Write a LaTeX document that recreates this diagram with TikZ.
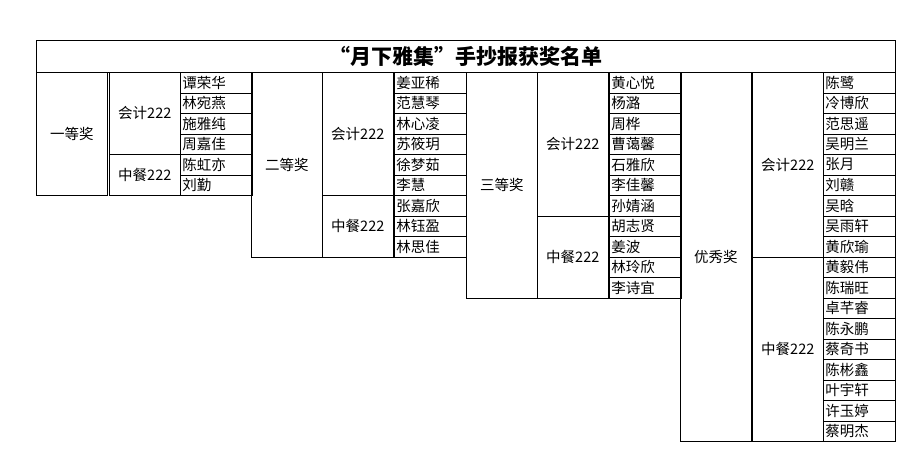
\documentclass[tikz,border=0pt]{standalone}
\usepackage{fontspec}
\setmainfont{Noto Sans CJK SC}
\usetikzlibrary{positioning}

\newcommand{\rowh}{20.5}

\begin{document}
\begin{tikzpicture}[
    x=1pt, y=-1pt,
    cell_style/.style={draw, semithick, rectangle, anchor=north west, inner sep=0pt, font=\fontsize{14.5}{14.5}\selectfont},
    prize_cell/.style={cell_style, minimum width=71pt},
    class_cell/.style={cell_style, minimum width=71pt},
    name_cell/.style={cell_style, minimum width=72pt, minimum height=\rowh pt, text width=70pt, align=left},
    title_cell/.style={cell_style, minimum width=859pt, minimum height=32pt, font=\fontsize{21}{21}\selectfont\bfseries}
]
\useasboundingbox (0,0) rectangle (922,458);

% Title row
\node[title_cell] (title) at (36,40) {“月下雅集”手抄报获奖名单};

% First prize
\node[prize_cell, minimum height=6*\rowh pt] (prize1) at (36,72) {一等奖};
\node[class_cell, minimum height=4*\rowh pt] (class1a) at (109,72) {会计222};
\node[class_cell, minimum height=2*\rowh pt] (class1b) at (109,72+4*\rowh) {中餐222};
\foreach \n [count=\i from 0] in {谭荣华,林宛燕,施雅纯,周嘉佳,陈虹亦,刘勤}
    \node[name_cell] (name1\i) at (180,72+\i*\rowh) {\hspace{1pt}\n};

% Second prize
\node[prize_cell, minimum height=9*\rowh pt] (prize2) at (251,72) {二等奖};
\node[class_cell, minimum height=6*\rowh pt] (class2a) at (322,72) {会计222};
\node[class_cell, minimum height=3*\rowh pt] (class2b) at (322,72+6*\rowh) {中餐222};
\foreach \n [count=\i from 0] in {姜亚稀,范慧琴,林心凌,苏筱玥,徐梦茹,李慧,张嘉欣,林钰盈,林思佳}
    \node[name_cell] (name2\i) at (394,72+\i*\rowh) {\hspace{1pt}\n};

% Third prize
\node[prize_cell, minimum height=11*\rowh pt] (prize3) at (466,72) {三等奖};
\node[class_cell, minimum height=7*\rowh pt] (class3a) at (537,72) {会计222};
\node[class_cell, minimum height=4*\rowh pt] (class3b) at (537,72+7*\rowh) {中餐222};
\foreach \n [count=\i from 0] in {黄心悦,杨潞,周桦,曹蔼馨,石雅欣,李佳馨,孙婧涵,胡志贤,姜波,林玲欣,李诗宜}
    \node[name_cell] (name3\i) at (609,72+\i*\rowh) {\hspace{1pt}\n};

% Excellence prize
\node[prize_cell, minimum height=18*\rowh pt] (prize4) at (680,72) {优秀奖};
\node[class_cell, minimum height=9*\rowh pt] (class4a) at (752,72) {会计222};
\node[class_cell, minimum height=9*\rowh pt] (class4b) at (752,72+9*\rowh) {中餐222};
\foreach \n [count=\i from 0] in {陈鹭,冷博欣,范思遥,吴明兰,张月,刘赣,吴晗,吴雨轩,黄欣瑜,黄毅伟,陈瑞旺,卓芊睿,陈永鹏,蔡奇书,陈彬鑫,叶宇轩,许玉婷,蔡明杰}
    \node[name_cell] (name4\i) at (823,72+\i*\rowh) {\hspace{1pt}\n};

\end{tikzpicture}
\end{document}
